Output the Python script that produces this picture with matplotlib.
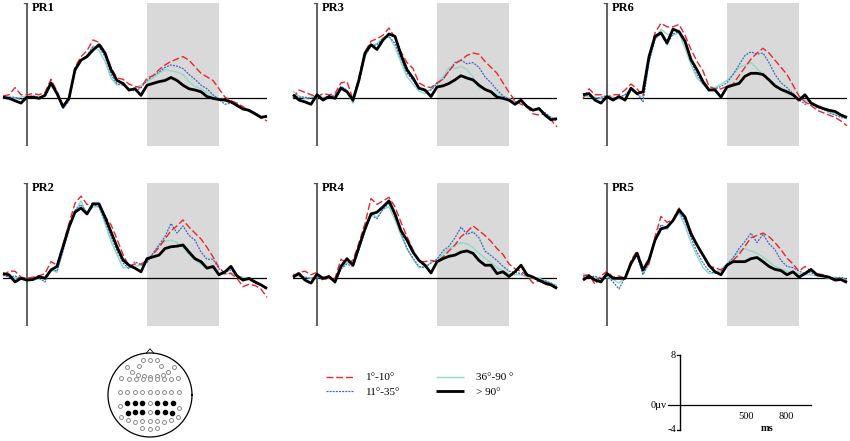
import matplotlib
matplotlib.use('Agg')
import matplotlib.pyplot as plt
import numpy as np

plt.rcParams['font.family'] = ['Liberation Serif', 'DejaVu Serif']

W, H = 850, 441

# time axis (ms), one sample every 25 ms
times = list(range(-100, 1001, 25))
conditions = ['1°-10°', '11°-35°', '36°-90 °', '> 90°']

# ---- (µV) ----
pr1_red = [0.2, 0.3, 0.9, 0.3, 0.3, 0.4, 0.3, 0.5, 1.6, 0.6, -0.6, 0.1, 2.6, 3.5, 4.0, 4.9, 4.7, 3.9, 2.6, 1.7, 1.6, 1.2, 1.0, 0.9, 1.7, 1.9, 2.4, 2.8, 3.1, 3.3, 3.5, 3.2, 2.65, 2.1, 1.8, 1.5, 0.8, 0.1, -0.2, -0.4, -0.7, -1.1, -1.3, -1.6, -1.9]
pr1_blue = [0.0, 0.1, 0.1, -0.1, 0.1, 0.2, 0.1, 0.3, 1.2, 0.4, -0.9, -0.2, 2.3, 3.2, 3.6, 4.3, 4.3, 3.5, 2.0, 1.2, 1.1, 0.8, 0.6, 0.9, 1.5, 1.9, 2.2, 2.6, 2.8, 2.7, 2.5, 2.0, 1.6, 1.1, 0.8, 0.3, -0.1, -0.5, -0.4, -0.5, -0.9, -1.0, -1.2, -1.5, -1.6]
pr1_cyan = [0.0, 0.1, 0.0, 0.1, 0.2, 0.1, 0.0, 0.3, 1.1, 0.3, -0.8, -0.1, 2.2, 3.1, 3.6, 4.4, 4.0, 3.1, 1.7, 1.1, 1.3, 0.6, 0.9, 1.1, 1.4, 1.7, 2.1, 2.4, 2.3, 2.2, 2.0, 1.4, 1.0, 0.8, 0.5, 0.2, 0.0, -0.1, -0.3, -0.5, -0.7, -1.0, -1.2, -1.5, -1.6]
pr1_black = [0.1, 0, -0.2, -0.4, 0.1, 0.1, 0, 0.25, 1.3, 0.4, -0.7, 0, 2.4, 3.2, 3.5, 4.05, 4.5, 3.8, 2.4, 1.5, 1.25, 0.7, 0.8, 0.25, 1.1, 1.25, 1.4, 1.5, 1.75, 1.5, 1.1, 0.8, 0.7, 0.55, 0.15, 0, -0.1, -0.15, -0.3, -0.6, -0.9, -1.0, -1.3, -1.6, -1.5]

pr3_red = [0.0, 0.7, 0.5, 0.3, 0.1, 0.4, 0.3, 0.4, 1.3, 1.4, -0.1, 1.8, 3.9, 4.8, 5.0, 5.3, 5.9, 5.1, 3.9, 3.0, 2.5, 1.3, 1.0, 0.9, 1.3, 1.6, 2.3, 2.9, 3.2, 3.6, 3.8, 3.7, 3.1, 2.6, 2.1, 1.3, 0.5, -0.2, -0.5, -0.7, -1.3, -1.4, -1.3, -1.8, -2.4]
pr3_blue = [0.3, 0.1, 0.1, 0.0, 0.2, 0.0, 0.2, 0.2, 1.0, 0.7, -0.3, 1.5, 3.6, 4.4, 4.5, 5.0, 5.2, 4.6, 3.3, 2.1, 1.5, 0.8, 0.6, 0.7, 1.2, 1.6, 2.3, 3.0, 3.2, 2.9, 3.0, 2.6, 1.8, 1.3, 0.7, 0.2, -0.1, -0.3, -0.2, -0.6, -1.0, -0.9, -1.2, -1.6, -1.9]
pr3_cyan = [0.6, 0.2, 0.0, 0.1, 0.1, 0.1, 0.1, 0.3, 1.0, 0.5, -0.4, 1.4, 3.5, 4.4, 4.6, 5.1, 5.2, 4.3, 3.0, 1.8, 1.2, 0.6, 0.4, 0.8, 1.3, 1.8, 2.6, 2.5, 2.7, 2.4, 1.8, 0.9, 0.7, 0.6, 0.3, 0.1, 0.0, -0.3, -0.3, -0.6, -0.9, -1.0, -1.3, -1.6, -1.8]
pr3_black = [0.3, -0.15, -0.3, -0.5, 0.3, -0.15, 0.15, 0, 0.85, 0.55, -0.15, 1.55, 3.8, 4.5, 4.1, 4.9, 5.4, 5.2, 3.65, 2.4, 1.7, 0.85, 0.7, 0.15, 0.95, 1.05, 1.25, 1.55, 1.9, 1.7, 1.55, 1.1, 0.75, 0.55, 0.1, 0, -0.15, -0.5, -0.15, -0.7, -1.0, -0.85, -1.4, -1.8, -1.7]

pr6_red = [0.0, 0.8, 0.3, 0.3, 0.1, 0.3, 0.3, 0.7, 1.2, 0.8, 0.2, 3.4, 5.5, 6.3, 6.0, 6.0, 6.2, 5.3, 4.1, 3.1, 2.3, 1.0, 0.8, 0.8, 1.0, 1.2, 1.9, 2.6, 3.3, 3.8, 4.2, 3.8, 3.2, 2.6, 2.0, 1.1, 0.2, -0.3, -0.6, -1.0, -1.2, -1.4, -1.6, -1.9, -2.3]
pr6_blue = [0.4, 0.2, 0.0, 0.1, 0.2, 0.0, 0.1, 0.3, 0.7, 0.4, -0.3, 3.0, 5.0, 5.4, 4.5, 5.4, 5.6, 4.6, 3.1, 2.0, 1.2, 0.6, 0.8, 1.0, 1.3, 2.0, 2.8, 3.6, 3.9, 3.7, 3.8, 3.0, 2.0, 1.3, 0.9, 0.4, -0.1, -0.5, -0.4, -0.8, -0.9, -1.2, -1.4, -1.6, -1.7]
pr6_cyan = [0.2, 0.1, 0.1, 0.0, 0.2, 0.1, 0.0, 0.3, 0.8, 0.3, 0.1, 3.1, 5.0, 5.8, 5.4, 5.3, 5.5, 4.2, 2.8, 1.7, 1.2, 0.7, 0.9, 1.2, 1.5, 2.0, 2.6, 2.8, 3.0, 2.5, 2.0, 1.6, 1.1, 0.7, 0.4, 0.2, 0.0, -0.2, -0.3, -0.7, -0.9, -1.1, -1.3, -1.5, -1.7]
pr6_black = [0.3, 0.4, -0.15, -0.4, 0.15, -0.15, 0.15, -0.15, 0.85, 0.4, 0.55, 3.5, 5.2, 5.5, 4.65, 5.8, 5.6, 4.8, 3.25, 2.4, 1.4, 0.7, 0.7, 0.1, 0.95, 1.1, 1.25, 1.85, 2.1, 2.1, 2.0, 1.55, 1.05, 0.75, 0.55, 0.3, -0.15, 0.3, -0.4, -0.65, -0.85, -1.0, -1.1, -1.4, -1.6]

pr2_red = [0.2, 0.6, 0.6, 0.1, 0.0, 0.1, 0.2, 0.4, 1.4, 1.1, 2.8, 4.6, 6.3, 6.9, 6.2, 6.3, 6.2, 5.2, 4.5, 3.3, 2.0, 1.0, 1.2, 1.2, 1.5, 2.0, 2.6, 3.3, 4.0, 4.4, 4.9, 4.3, 3.8, 3.3, 2.6, 1.8, 0.9, 0.4, 0.4, 0.0, -0.7, -0.5, -0.6, -0.9, -1.6]
pr2_blue = [0.3, 0.1, 0.2, 0.0, 0.0, -0.1, 0.0, -0.3, 0.8, 0.6, 2.3, 4.1, 5.7, 6.2, 5.5, 6.2, 6.0, 4.8, 3.5, 2.3, 1.3, 0.8, 1.4, 1.1, 1.3, 2.1, 2.8, 3.5, 4.6, 3.8, 4.4, 3.6, 3.2, 2.2, 1.6, 1.6, 0.8, 0.5, 0.7, 0.3, -0.2, -0.1, -0.4, -0.6, -0.9]
pr2_cyan = [0.5, 0.1, 0.0, 0.1, -0.1, 0.0, 0.1, 0.1, 0.7, 0.5, 2.4, 4.3, 5.6, 6.5, 5.4, 6.0, 6.0, 4.6, 3.1, 2.0, 0.9, 0.9, 1.0, 1.1, 1.5, 2.1, 2.8, 3.1, 3.2, 3.0, 2.6, 2.0, 1.5, 1.2, 1.0, 0.8, 0.4, 0.3, 0.5, 0.2, 0.1, -0.1, -0.3, -0.6, -0.9]
pr2_black = [0.4, 0.3, -0.3, 0, -0.15, -0.1, 0.15, 0, 0.7, 1.0, 2.65, 4.3, 5.55, 5.9, 5.4, 6.25, 6.25, 5.15, 3.9, 2.65, 1.55, 1.1, 0.85, 0.55, 1.65, 1.8, 1.95, 2.5, 2.65, 2.7, 2.8, 2.2, 1.65, 1.4, 0.85, 1.0, 0.3, 0.55, 1.0, 0.2, -0.15, 0, -0.3, -0.55, -0.85]

pr4_red = [0.2, 0.5, 0.6, 0.3, 0.5, -0.2, 0.1, 0.0, 1.6, 1.3, 1.5, 3.0, 4.6, 6.7, 6.2, 6.5, 6.8, 6.0, 4.7, 3.5, 2.4, 1.4, 1.4, 1.5, 1.4, 1.8, 2.3, 2.8, 3.5, 3.9, 4.4, 4.0, 3.6, 3.1, 2.5, 2.0, 1.2, 0.8, 0.6, 0.2, -0.4, -0.2, -0.5, -0.6, -0.8]
pr4_blue = [0.3, 0.2, 0.1, 0.0, 0.1, -0.1, 0.2, -0.4, 0.8, 1.2, 1.0, 2.4, 4.0, 5.3, 5.0, 5.8, 6.3, 5.2, 3.8, 2.5, 1.7, 1.0, 0.9, 1.3, 1.6, 2.3, 2.7, 3.4, 4.3, 3.7, 3.9, 3.4, 2.3, 1.9, 1.5, 1.0, 0.6, 0.5, 0.4, 0.2, 0.1, -0.1, -0.2, -0.4, -0.7]
pr4_cyan = [0.4, 0.2, 0.1, 0.0, 0.1, 0.1, 0.0, -0.1, 0.9, 1.3, 1.2, 2.5, 4.2, 5.5, 5.1, 5.8, 6.0, 4.9, 3.6, 2.5, 1.6, 0.9, 1.0, 1.3, 1.6, 2.0, 2.5, 2.8, 3.0, 2.9, 2.6, 2.1, 1.7, 1.3, 0.9, 0.6, 0.4, 0.3, 0.3, 0.1, 0.0, 0.0, -0.2, -0.4, -0.6]
pr4_black = [0.1, 0.4, -0.15, -0.4, 0.35, 0, 0.15, -0.3, 1.0, 1.65, 1.1, 2.65, 4.15, 5.4, 5.55, 6.0, 6.5, 5.4, 4.0, 3.2, 2.2, 1.5, 1.1, 0.45, 1.4, 1.65, 1.85, 1.95, 2.2, 2.3, 2.1, 1.5, 1.1, 1.1, 0.4, 0.55, 0.15, 0.55, 1.1, 0.3, 0.1, -0.15, -0.4, -0.55, -0.85]

pr5_red = [0.2, 0.3, -0.5, 0.2, 0.6, 0.1, 0.2, 0.0, 1.5, 2.3, 0.9, 1.2, 3.5, 5.2, 4.7, 4.9, 5.9, 5.1, 3.9, 2.7, 1.9, 1.0, 0.9, 0.7, 1.1, 1.5, 2.0, 2.7, 3.4, 3.6, 3.8, 3.5, 3.0, 2.4, 1.7, 1.2, 0.6, 1.0, 0.6, 0.4, 0.3, 0.1, 0.0, -0.1, -0.2]
pr5_blue = [0.1, 0.1, 0.2, -0.1, 0.2, -0.3, -0.9, 0.1, 1.3, 1.9, 0.3, 1.3, 3.3, 4.5, 4.2, 4.9, 5.6, 4.8, 3.4, 2.2, 1.3, 0.6, 0.4, 0.6, 1.2, 1.7, 2.5, 3.1, 3.8, 3.0, 3.7, 2.9, 2.4, 1.5, 1.0, 0.9, 0.6, 0.4, 0.5, 0.2, 0.2, 0.1, 0.0, 0.1, -0.1]
pr5_cyan = [0.4, 0.2, 0.0, 0.1, 0.1, -0.1, -0.4, 0.0, 1.3, 2.0, 0.4, 1.2, 3.2, 4.3, 4.1, 4.8, 5.5, 4.4, 3.0, 1.9, 0.9, 0.4, 0.5, 0.8, 1.2, 1.7, 2.3, 2.5, 2.3, 2.1, 1.8, 1.4, 1.0, 0.8, 0.6, 0.5, 0.4, 0.3, 0.3, 0.2, 0.1, 0.0, 0.1, 0.0, -0.1]
pr5_black = [-0.15, 0.2, -0.15, -0.3, 0.4, 0, 0, 0, 1.25, 2.1, 0.7, 1.55, 3.2, 4.15, 4.3, 4.85, 5.75, 5.15, 3.75, 2.8, 1.95, 1.1, 0.55, 0.3, 1.1, 1.4, 1.4, 1.4, 1.65, 1.75, 1.4, 1.0, 0.75, 0.65, 0.3, 0.55, 0.1, 0.4, 0.75, 0.3, 0.2, 0.1, -0.15, -0.1, -0.35]

# electrode layout (unit head radius) and which ones are in the ROI
elec_x = [-0.17, 0, 0.16,
          -0.55, -0.26, 0.27, 0.56,
          -0.42, -0.28, -0.15, 0, 0.16, 0.3, 0.43,
          -0.68, -0.51, -0.34, -0.17, 0, 0.16, 0.34, 0.51, 0.66,
          -0.72, -0.55, -0.35, -0.18, 0, 0.16, 0.34, 0.51, 0.7,
          -0.55, -0.35, -0.18, 0, 0.16, 0.35, 0.55,
          -0.72, 0.7,
          -0.53, -0.35, -0.18, 0, 0.16, 0.35, 0.53,
          -0.68, -0.53, -0.35, -0.18, 0, 0.16, 0.34, 0.51, 0.66,
          -0.18, 0, 0.16]
elec_y = [0.83, 0.83, 0.83,
          0.67, 0.7, 0.7, 0.67,
          0.54, 0.48, 0.45, 0.43, 0.45, 0.48, 0.54,
          0.41, 0.38, 0.38, 0.38, 0.38, 0.38, 0.38, 0.38, 0.41,
          0.08, 0.08, 0.08, 0.08, 0.08, 0.08, 0.08, 0.08, 0.08,
          -0.18, -0.18, -0.18, -0.18, -0.18, -0.18, -0.18,
          -0.26, -0.3,
          -0.42, -0.4, -0.4, -0.4, -0.4, -0.4, -0.42,
          -0.52, -0.59, -0.64, -0.62, -0.62, -0.62, -0.64, -0.59, -0.52,
          -0.79, -0.82, -0.79]
roi = [0] * 32 + [1, 1, 1, 0, 1, 1, 1] + [0, 0] + [1, 1, 1, 0, 1, 1, 1] + [0] * 12

panels = {
    'PR1': (0, 0, [pr1_red, pr1_blue, pr1_cyan, pr1_black]),
    'PR3': (0, 1, [pr3_red, pr3_blue, pr3_cyan, pr3_black]),
    'PR6': (0, 2, [pr6_red, pr6_blue, pr6_cyan, pr6_black]),
    'PR2': (1, 0, [pr2_red, pr2_blue, pr2_cyan, pr2_black]),
    'PR4': (1, 1, [pr4_red, pr4_blue, pr4_cyan, pr4_black]),
    'PR5': (1, 2, [pr5_red, pr5_blue, pr5_cyan, pr5_black]),
}

styles = [
    dict(color='#e8262e', lw=1.0, dashes=(5, 2), zorder=5),
    dict(color='#3d6cc0', lw=0.9, dashes=(1.6, 0.9), zorder=4),
    dict(color='#8fd9c9', lw=1.0, zorder=3),
    dict(color='black', lw=2.0, zorder=6),
]


def px_axes(fig, left, top, width, height):
    return fig.add_axes([left / W, 1 - (top + height) / H, width / W, height / H])


fig = plt.figure(figsize=(W / 100, H / 100), dpi=100)

col_left = [3, 293, 583]
row_top = [3, 183]
handles = []
for name, (r, c, series) in panels.items():
    ax = px_axes(fig, col_left[c], row_top[r], 264, 143)
    ax.set_xlim(-100, 1000)
    ax.set_ylim(-4, 8)
    ax.axis('off')
    ax.axvspan(500, 800, color='#d9d9d9', lw=0, zorder=0)
    ax.plot([-100, 1000], [0, 0], color='black', lw=0.9, zorder=2)
    ax.plot([0, 0], [-4, 8], color='#555555', lw=1.3, zorder=2)
    ax.plot([-12, 0], [8, 8], color='#555555', lw=1.0)
    ax.plot([-12, 0], [-4, -4], color='#555555', lw=1.0)
    lines = []
    for vals, st, lab in zip(series, styles, conditions):
        ln, = ax.plot(times, vals, label=lab, solid_capstyle='butt', clip_on=False, **st)
        lines.append(ln)
    if not handles:
        handles = lines
    ax.text(20, 7.55, name, fontsize=9, fontweight='bold', va='center', ha='left')

fig.legend(handles=handles, labels=conditions, ncol=2, frameon=False,
           loc='center left', bbox_to_anchor=(326 / W, 1 - 385 / H),
           fontsize=8, handlelength=2.5, handletextpad=1.1,
           columnspacing=3.2, labelspacing=0.45, borderpad=0, borderaxespad=0)

# scalp map
sax = px_axes(fig, 100, 345, 100, 100)
sax.set_xlim(-50 / 42, 50 / 42)
sax.set_ylim(-50 / 42, 50 / 42)
sax.set_aspect('equal')
sax.axis('off')
th = np.linspace(0, 2 * np.pi, 200)
sax.plot(np.cos(th), np.sin(th), color='black', lw=0.9)
sax.plot([-0.09, 0, 0.09], [0.995, 1.1, 0.995], color='black', lw=0.6)
ex = np.array(elec_x)
ey = np.array(elec_y)
on = np.array(roi) == 1
sax.scatter(ex[~on], ey[~on], s=8, facecolors='white', edgecolors='#8a8a8a', linewidths=0.7)
sax.scatter(ex[on], ey[on], s=9, color='black')

# scale bar
bax = px_axes(fig, 668, 355, 143, 75)
bax.set_xlim(-90, 990)
bax.set_ylim(-4, 8)
bax.axis('off')
bax.plot([-90, 990], [0, 0], color='black', lw=0.9, clip_on=False)
bax.plot([0, 0], [-4, 8], color='black', lw=1.0, clip_on=False)
bax.plot([-20, 0], [8, 8], color='black', lw=0.9, clip_on=False)
bax.plot([-20, 0], [-4, -4], color='black', lw=0.9, clip_on=False)
bax.text(-30, 8, '8', fontsize=7.5, ha='right', va='center')
bax.text(-30, -4, '-4', fontsize=7.5, ha='right', va='center')
bax.text(-100, 0, '0µv', fontsize=7.5, ha='right', va='center')
for t in [500, 800]:
    bax.text(t, -1.8, str(t), fontsize=7.5, ha='center', va='center')
bax.text(655, -3.7, 'ms', fontsize=7.5, fontweight='bold', ha='center', va='center')

fig.savefig('out.png', dpi=100)
